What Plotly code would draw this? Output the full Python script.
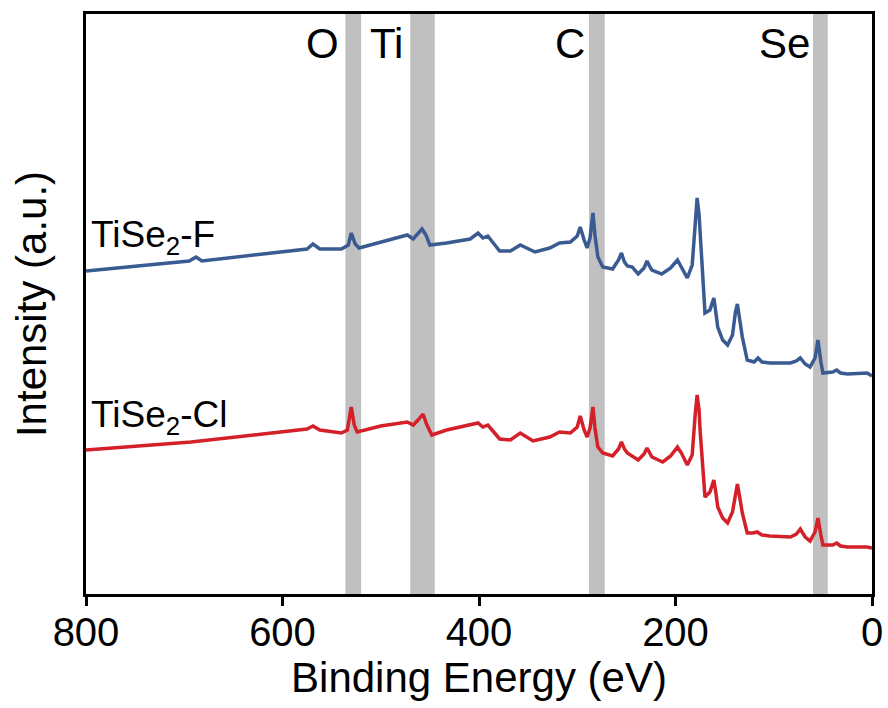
import plotly.graph_objects as go

# Binding energy (eV) and intensity (a.u.)
energy_f = [800, 740, 695, 688, 682, 620, 575, 569, 562, 540,
            533, 530, 526, 522, 500, 480, 473, 467, 462, 458,
            454, 450, 433, 409, 401, 396, 391, 385, 379, 368,
            358, 343, 328, 318, 307, 300, 297, 293, 290, 287,
            284, 282, 279, 274, 264, 258, 255, 252, 249, 244,
            238, 232, 229, 226, 224, 214, 205, 198, 194, 188,
            183, 180, 178, 176, 175, 172, 170, 165, 161, 159,
            157, 152, 147, 142, 139, 137, 135, 132, 127, 120,
            116, 112, 104, 83, 77, 73, 68, 63, 58, 55,
            52, 50, 40, 36, 32, 25, 5, 0]
intensity_f = [323, 329, 333, 337, 333, 340, 345, 350, 345, 345,
               349, 361, 350, 346, 352, 357, 359, 355, 360, 365,
               359, 349, 351, 355, 361, 356, 358, 350, 343, 343,
               349, 342, 346, 351, 352, 358, 367, 354, 346, 356,
               381, 359, 337, 327, 325, 334, 341, 332, 328, 327,
               320, 326, 333, 327, 324, 320, 326, 334, 327, 316,
               329, 374, 396, 379, 364, 314, 281, 284, 296, 282,
               267, 254, 249, 259, 282, 290, 276, 257, 234, 232,
               236, 232, 231, 231, 233, 236, 230, 227, 236, 254,
               232, 221, 222, 224, 221, 220, 221, 218]

energy_cl = [800, 740, 693, 620, 575, 569, 562, 540, 534, 530,
             527, 524, 500, 473, 467, 462, 457, 453, 448, 433,
             409, 401, 396, 391, 385, 379, 368, 358, 345, 328,
             318, 307, 300, 297, 293, 290, 287, 284, 282, 279,
             274, 264, 258, 255, 252, 249, 238, 232, 229, 226,
             224, 213, 205, 198, 194, 188, 183, 180, 178, 176,
             175, 172, 170, 165, 161, 159, 157, 152, 147, 142,
             139, 137, 135, 132, 127, 121, 117, 112, 104, 83,
             77, 73, 68, 63, 58, 55, 52, 50, 40, 36,
             32, 25, 5, 0]
intensity_cl = [144, 148, 152, 160, 165, 168, 164, 161, 164, 187,
                169, 162, 168, 172, 169, 174, 180, 169, 159, 164,
                169, 171, 167, 169, 162, 155, 154, 161, 153, 157,
                162, 161, 167, 178, 164, 157, 166, 187, 166, 147,
                141, 138, 145, 152, 145, 141, 134, 140, 146, 141,
                137, 132, 138, 147, 141, 129, 139, 179, 199, 184,
                164, 124, 97, 102, 114, 102, 87, 76, 71, 82,
                102, 110, 99, 81, 61, 61, 62, 59, 58, 57,
                60, 65, 57, 53, 62, 76, 59, 49, 49, 51,
                48, 47, 47, 46]

# Element marker bands (eV) and labels
band_names = ["O", "Ti", "C", "Se"]
band_lo = [520, 445, 272, 45]
band_hi = [536, 470, 288, 60]
label_x = [559, 494, 307, 89]

x_ticks = [800, 600, 400, 200, 0]

FONT = "Liberation Sans, Arial, Helvetica, sans-serif"
BLUE = "#3a5a92"
RED = "#d42029"

fig = go.Figure()
fig.add_trace(go.Scatter(x=energy_f, y=intensity_f, mode="lines",
                         line=dict(color=BLUE, width=3.5), name="TiSe2-F"))
fig.add_trace(go.Scatter(x=energy_cl, y=intensity_cl, mode="lines",
                         line=dict(color=RED, width=3.5), name="TiSe2-Cl"))

for lo, hi in zip(band_lo, band_hi):
    fig.add_shape(type="rect", xref="x", yref="paper", x0=lo, x1=hi, y0=0, y1=1,
                  fillcolor="#c0c0c0", line=dict(width=0), layer="below")

for name, lx in zip(band_names, label_x):
    fig.add_annotation(x=lx, y=0.95, xref="x", yref="paper", text=name,
                       showarrow=False, font=dict(family=FONT, size=42, color="black"),
                       xanchor="center", yanchor="middle")

fig.add_annotation(x=797, y=0.615, xref="x", yref="paper", text="TiSe<sub>2</sub>-F",
                   showarrow=False, font=dict(family=FONT, size=37, color="black"),
                   xanchor="left", yanchor="middle")
fig.add_annotation(x=797, y=0.305, xref="x", yref="paper", text="TiSe<sub>2</sub>-Cl",
                   showarrow=False, font=dict(family=FONT, size=37, color="black"),
                   xanchor="left", yanchor="middle")

fig.update_layout(
    width=888, height=708,
    margin=dict(l=86, r=16, t=14, b=114, autoexpand=False),
    paper_bgcolor="white", plot_bgcolor="white",
    showlegend=False,
    font=dict(family=FONT, color="black"),
)
fig.update_xaxes(range=[800, 0], tickvals=x_ticks, ticktext=[str(v) for v in x_ticks],
                 showgrid=False, zeroline=False, automargin=False,
                 showline=True, linecolor="black", linewidth=3, mirror=True,
                 ticks="outside", ticklen=9, tickwidth=3, tickcolor="black",
                 ticklabelstandoff=-8,
                 tickfont=dict(family=FONT, size=40, color="black"),
                 title=dict(text="Binding Energy (eV)", standoff=4,
                            font=dict(family=FONT, size=42, color="black")))
fig.update_yaxes(range=[0, 580], showticklabels=False, ticks="",
                 showgrid=False, zeroline=False, automargin=False,
                 showline=True, linecolor="black", linewidth=3, mirror=True,
                 title=dict(text="Intensity (a.u.)", standoff=24,
                            font=dict(family=FONT, size=42, color="black")))

fig.write_html("out.html", config={"displayModeBar": False},
               post_script="document.body.style.margin='0';document.body.style.overflow='hidden';")
